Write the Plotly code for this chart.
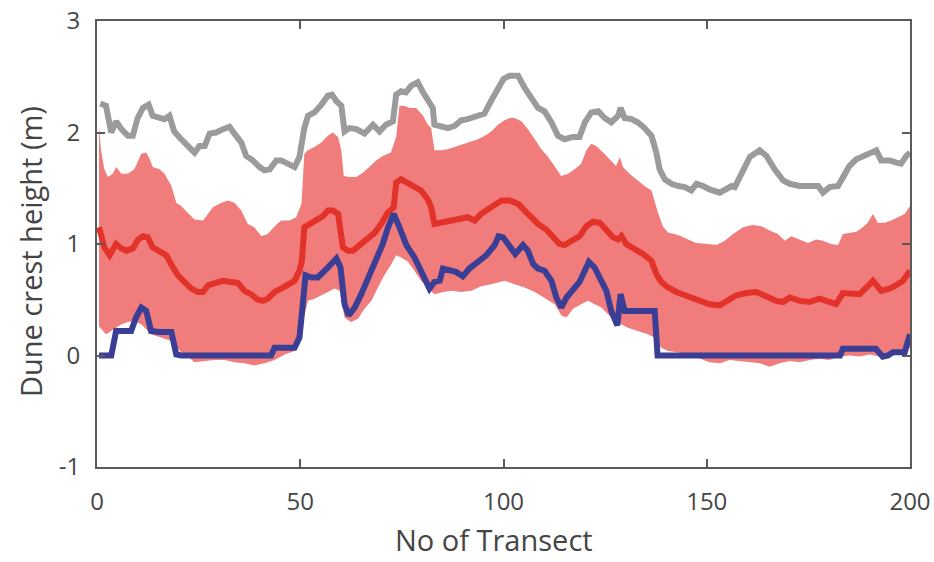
import plotly.graph_objects as go

# ---- data ----
gray_x = [0.8, 2.2, 3.5, 4.7, 6, 7.6, 8.8, 10, 11.3, 12.7, 13.7, 15.4, 16.6, 17.8, 19, 20.7, 22.3, 24, 25.2, 26.5,
          27.7, 29.3, 31, 32.6, 33.8, 35.5, 36.7, 38.3, 40, 41.2, 42.5, 44.1, 45.3, 47, 48.6, 49.8, 51, 51.9, 53.5,
          55.2, 56.8, 57.8, 58.9, 60.1, 60.9, 62.1, 63.8, 65.8, 67.9, 69.5, 71.1, 72.8, 73.6, 74.8, 76, 77.3, 78.9,
          80.2, 81.4, 82.6, 83, 84.7, 86.3, 88, 89.6, 91.2, 93.3, 95.3, 96.9, 98.6, 100, 101.5, 103.6, 105.2, 106.8,
          108.5, 110.1, 111.8, 113.4, 115, 117.1, 118.7, 120, 121.6, 123.3, 124.9, 126.5, 128.2, 128.8, 129.8, 131.5,
          133.1, 134.7, 136.4, 137.6, 138.4, 139.7, 141.3, 143, 144.6, 146.2, 147.5, 149.1, 150.7, 153.2, 154.8,
          156.1, 156.9, 158.5, 160.6, 163, 164.7, 166.7, 168.8, 170.4, 172.9, 175.3, 177.4, 178.6, 180.2, 182.3,
          183.5, 185.1, 186.8, 188.8, 191.7, 192.9, 195, 196.6, 197.8, 199.1, 200]
gray_y = [2.26, 2.24, 2.0, 2.1, 2.03, 1.97, 1.97, 2.13, 2.22, 2.25, 2.15, 2.13, 2.12, 2.15, 2.01, 1.94, 1.88, 1.82, 1.88,
          1.88, 1.99, 2.0, 2.03, 2.05, 1.99, 1.91, 1.79, 1.75, 1.69, 1.66, 1.67, 1.75, 1.75, 1.72, 1.69, 1.78, 2.04,
          2.15, 2.18, 2.25, 2.33, 2.34, 2.28, 2.24, 2.01, 2.04, 2.03, 1.99, 2.07, 2.01, 2.07, 2.1, 2.34, 2.37, 2.36,
          2.42, 2.45, 2.36, 2.3, 2.22, 2.07, 2.05, 2.04, 2.06, 2.11, 2.12, 2.15, 2.17, 2.28, 2.4, 2.48, 2.51, 2.51,
          2.4, 2.31, 2.22, 2.19, 2.09, 1.97, 1.94, 1.96, 1.96, 2.09, 2.18, 2.19, 2.13, 2.09, 2.15, 2.22, 2.13, 2.12,
          2.09, 2.04, 1.97, 1.82, 1.67, 1.58, 1.54, 1.52, 1.51, 1.48, 1.54, 1.52, 1.49, 1.46, 1.49, 1.52, 1.51, 1.64,
          1.78, 1.84, 1.79, 1.67, 1.57, 1.54, 1.52, 1.52, 1.52, 1.46, 1.51, 1.52, 1.61, 1.70, 1.76, 1.79, 1.84, 1.75,
          1.75, 1.73, 1.72, 1.79, 1.82]

red_x = [0.5, 1.8, 3.1, 4.7, 6, 7.2, 8.8, 10.1, 11.3, 12.5, 13.7, 15.4, 17, 18.7, 19.9, 21.5, 23.2, 24.8, 26.1, 27.3,
         28.9, 31, 33, 34.7, 36.3, 37.9, 39.6, 40.8, 42, 43.7, 45.3, 47, 48.6, 49.8, 50.4, 51, 52.3, 53.9, 55.6,
         56.8, 58, 59.3, 60.5, 61.7, 63, 64.6, 66.2, 68.3, 69.9, 71.5, 73, 73.6, 74.8, 76.5, 78.1, 79.7, 81.4, 82.2,
         83, 84.7, 86.3, 88, 89.6, 91.2, 92.9, 94.5, 96.1, 97.8, 99.5, 101.5, 103.6, 105.2, 106.8, 108.5, 110.5,
         112.2, 113.8, 115, 116.7, 118.7, 120.4, 122, 123.7, 125.3, 126.9, 128.2, 129, 130.2, 132.3, 134.3, 136.4,
         137.6, 138.8, 140.5, 142.5, 144.6, 146.6, 148.3, 150.7, 153.2, 154.8, 157.3, 159.8, 162.2, 164.7, 167.1,
         168.8, 170.4, 172.9, 175.3, 177.7, 179.7, 181.8, 183.5, 185.5, 187.6, 189.3, 190.9, 192.9, 195, 196.6,
         198.3, 200]
red_y = [1.15, 0.97, 0.9, 1.0, 0.96, 0.94, 0.96, 1.04, 1.07, 1.06, 0.97, 0.94, 0.9, 0.79, 0.72, 0.66, 0.6, 0.57, 0.57,
         0.63, 0.65, 0.67, 0.66, 0.65, 0.58, 0.55, 0.5, 0.49, 0.51, 0.57, 0.6, 0.63, 0.67, 0.76, 0.85, 1.15, 1.18,
         1.21, 1.25, 1.3, 1.3, 1.27, 0.97, 0.94, 0.94, 0.99, 1.04, 1.1, 1.18, 1.28, 1.33, 1.55, 1.58, 1.55, 1.52,
         1.48, 1.4, 1.33, 1.18, 1.19, 1.21, 1.21, 1.22, 1.24, 1.21, 1.27, 1.31, 1.35, 1.39, 1.39, 1.36, 1.3, 1.24,
         1.18, 1.13, 1.07, 1.0, 0.99, 1.03, 1.07, 1.16, 1.2, 1.19, 1.13, 1.06, 1.04, 1.07, 1.0, 0.96, 0.91, 0.85,
         0.73, 0.66, 0.61, 0.57, 0.54, 0.51, 0.5, 0.46, 0.45, 0.49, 0.54, 0.56, 0.57, 0.53, 0.49, 0.48, 0.52, 0.49,
         0.48, 0.51, 0.48, 0.46, 0.56, 0.56, 0.55, 0.61, 0.67, 0.58, 0.6, 0.63, 0.67, 0.76]

blue_x = [0.5, 3.5, 4.7, 8.4, 9.6, 10.9, 12.1, 13.3, 15.4, 18.3, 19.5, 20.7, 42.8, 43.7, 48.6, 49.8, 50.6, 51.3, 52.7,
          54.3, 56, 57.6, 58.9, 59.9, 60.9, 61.9, 63.4, 65, 66.7, 68.7, 70.3, 71.6, 73, 74.4, 76.1, 78.1, 79.7, 80.9,
          81.8, 83, 84.3, 85.1, 86.7, 88.3, 90, 91.6, 93.7, 95.8, 97.8, 98.8, 99.9, 101.5, 102.9, 104.8, 106, 107.3,
          108.5, 110.1, 111.8, 113, 114.2, 115.5, 117.1, 118.7, 120, 121, 122.4, 124.1, 125.3, 126.5, 128, 128.8,
          129.8, 137.2, 137.9, 182.8, 183.5, 191.6, 193.3, 194.6, 195.8, 198.7, 199.4, 200]
blue_y = [0, 0, 0.22, 0.22, 0.34, 0.43, 0.4, 0.22, 0.21, 0.21, 0.01, 0, 0, 0.07, 0.07, 0.16, 0.45, 0.72, 0.7, 0.7,
          0.76, 0.82, 0.87, 0.79, 0.46, 0.36, 0.43, 0.55, 0.7, 0.85, 1.0, 1.15, 1.27, 1.15, 0.99, 0.88, 0.76, 0.66,
          0.6, 0.66, 0.67, 0.78, 0.77, 0.75, 0.71, 0.78, 0.84, 0.9, 0.99, 1.07, 1.06, 0.99, 0.91, 0.99, 0.94, 0.82,
          0.78, 0.76, 0.67, 0.52, 0.43, 0.52, 0.6, 0.66, 0.76, 0.84, 0.79, 0.67, 0.58, 0.4, 0.27, 0.55, 0.4, 0.4, 0,
          0, 0.06, 0.06, -0.01, 0, 0.03, 0.03, 0.1, 0.19]

upper_x = [0.5, 1.0, 1.8, 2.7, 3.9, 4.7, 6, 7.6, 9.2, 10.9, 12.1, 13, 13.7, 15.4, 16.6, 18.3, 19.5, 20.7, 22.3, 24,
           26.1, 27.3, 28.5, 30.6, 32.2, 33.8, 35.5, 37.1, 38.7, 40.4, 42, 43.7, 45.3, 47.4, 49, 50.3, 51, 51.9,
           53.5, 55.2, 56.8, 58, 59.3, 60.1, 60.7, 62.1, 63.8, 65.4, 67, 68.7, 70.3, 72.3, 73.6, 74.4, 75.6, 76.9,
           78.5, 80.2, 81.4, 82.2, 83, 84.7, 86.3, 88, 89.6, 91.7, 93.7, 95.4, 97, 98.6, 100.3, 101.5, 102.7, 104.4,
           106, 107.7, 109.3, 111, 112.6, 114.2, 115.9, 117.5, 119.1, 120.4, 121.6, 122.8, 124.5, 126.1, 127.7,
           128.6, 129.4, 131, 132.7, 134.7, 136.4, 138, 139.2, 140.5, 142.1, 143.7, 145.4, 147.4, 150.3, 152.4,
           154.4, 156.5, 158.9, 161.4, 163.4, 165.5, 167.5, 169.2, 170.8, 172.9, 174.9, 176.9, 178.6, 180.6, 182.3,
           183.5, 185.1, 186.8, 188.4, 189.6, 190.9, 192.1, 193.8, 195.4, 197, 198.7, 200]
upper_y = [2.05, 1.84, 1.67, 1.6, 1.63, 1.69, 1.63, 1.63, 1.67, 1.81, 1.82, 1.76, 1.69, 1.67, 1.63, 1.52, 1.37, 1.34,
           1.28, 1.22, 1.21, 1.27, 1.33, 1.37, 1.39, 1.37, 1.3, 1.18, 1.15, 1.07, 1.09, 1.16, 1.21, 1.21, 1.24, 1.36,
           1.81, 1.84, 1.87, 1.91, 1.97, 2.0, 1.96, 1.84, 1.61, 1.6, 1.6, 1.64, 1.69, 1.75, 1.79, 1.82, 1.96, 2.24,
           2.24, 2.22, 2.22, 2.15, 2.07, 2.04, 1.84, 1.84, 1.85, 1.87, 1.89, 1.91, 1.94, 1.97, 2.01, 2.07, 2.11, 2.13,
           2.13, 2.1, 2.03, 1.94, 1.85, 1.78, 1.69, 1.61, 1.63, 1.67, 1.72, 1.84, 1.9, 1.88, 1.82, 1.76, 1.7, 1.78,
           1.69, 1.63, 1.58, 1.52, 1.48, 1.28, 1.16, 1.1, 1.09, 1.07, 1.04, 1.01, 1.0, 0.99, 1.03, 1.09, 1.15, 1.17,
           1.16, 1.12, 1.09, 1.03, 1.07, 1.04, 1.01, 1.04, 1.03, 1.0, 0.99, 1.09, 1.1, 1.11, 1.15, 1.19, 1.27, 1.19,
           1.19, 1.21, 1.24, 1.27, 1.34]

lower_x = [0.5, 1.0, 2.2, 3.5, 6, 7.6, 9.2, 10.9, 13.3, 15.8, 18.3, 20.7, 22.3, 24, 26.5, 28.9, 31.4, 33.8, 36.3,
           38.7, 41.2, 43.7, 46.2, 48.6, 49.8, 50.6, 51.9, 53.5, 55.2, 56.8, 58.4, 59.7, 60.9, 62.5, 64.2, 65.8,
           67.5, 69.1, 70.7, 72.4, 73.6, 74.8, 76.5, 78.1, 79.7, 81.4, 83, 85.1, 87.2, 89.6, 92.1, 94.5, 97, 100.3,
           102.7, 105.2, 107.7, 110.1, 112.6, 114.2, 115.5, 117.1, 119.1, 120.8, 122.4, 124.1, 125.7, 127.4, 129,
           130.6, 133.1, 135.5, 137.2, 138.8, 140.5, 142.9, 145.4, 147.8, 150.7, 153.2, 155.6, 158.1, 160.6, 163,
           165.5, 167.9, 170.4, 172.9, 175.3, 177.7, 180.2, 182.6, 185.1, 187.6, 190.1, 192.5, 195, 197.4, 200]
lower_y = [0.26, 0.24, 0.19, 0.22, 0.28, 0.3, 0.31, 0.28, 0.19, 0.16, 0.13, 0.03, -0.01, -0.06, -0.05, -0.04, -0.04,
           -0.06, -0.07, -0.09, -0.07, -0.04, 0.01, 0.04, 0.12, 0.3, 0.49, 0.51, 0.54, 0.57, 0.6, 0.58, 0.34, 0.3,
           0.33, 0.42, 0.49, 0.61, 0.72, 0.82, 0.9, 0.88, 0.84, 0.76, 0.67, 0.61, 0.55, 0.57, 0.58, 0.57, 0.58, 0.62,
           0.64, 0.67, 0.64, 0.61, 0.57, 0.52, 0.46, 0.36, 0.34, 0.42, 0.46, 0.49, 0.46, 0.43, 0.37, 0.31, 0.28,
           0.25, 0.22, 0.19, 0.16, 0.07, 0.04, 0.03, 0.0, -0.02, -0.06, -0.07, -0.04, -0.05, -0.06, -0.07, -0.1,
           -0.07, -0.05, -0.06, -0.04, -0.03, -0.04, -0.01, 0.0, -0.01, 0.01, -0.01, 0.0, 0.03, 0.07]

x_ticks = [0, 50, 100, 150, 200]
y_ticks = [-1, 0, 1, 2, 3]
x_title = "No of Transect"
y_title = "Dune crest height (m)"

FONT = "Open Sans"
AXIS_COLOR = "#5a5a5a"
TEXT_COLOR = "#454545"

fig = go.Figure()

band_x = upper_x + lower_x[::-1]
band_y = upper_y + lower_y[::-1]
fig.add_trace(go.Scatter(x=band_x, y=band_y, fill="toself", fillcolor="rgb(240,124,124)",
                         line=dict(width=0), mode="lines", hoverinfo="skip", showlegend=False))
fig.add_trace(go.Scatter(x=gray_x, y=gray_y, mode="lines",
                         line=dict(color="rgb(155,155,155)", width=6), showlegend=False))
fig.add_trace(go.Scatter(x=red_x, y=red_y, mode="lines",
                         line=dict(color="rgb(226,50,42)", width=6), showlegend=False))
fig.add_trace(go.Scatter(x=blue_x, y=blue_y, mode="lines",
                         line=dict(color="rgb(58,62,148)", width=6), showlegend=False))

axis_common = dict(showgrid=False, zeroline=False, showline=True, linecolor=AXIS_COLOR, linewidth=2,
                   mirror="ticks", ticks="inside", ticklen=8, tickwidth=1.5, tickcolor=AXIS_COLOR,
                   automargin=False, tickfont=dict(family=FONT, size=24, color=TEXT_COLOR))

fig.update_xaxes(range=[0, 200], tickvals=x_ticks, ticktext=[str(v) for v in x_ticks],
                 ticklabelstandoff=12, **axis_common)
fig.update_yaxes(range=[-1, 3], tickvals=y_ticks, ticktext=[str(v) for v in y_ticks],
                 ticklabelstandoff=10, **axis_common)

title_font = dict(family=FONT, size=29, color=TEXT_COLOR)
fig.add_annotation(text=x_title, xref="paper", yref="paper", x=0.488, y=-0.162,
                   xanchor="center", yanchor="middle", showarrow=False, font=title_font)
fig.add_annotation(text=y_title, xref="paper", yref="paper", x=-0.0824, y=0.482, textangle=-90,
                   xanchor="center", yanchor="middle", showarrow=False, font=title_font)

fig.update_layout(width=934, height=562, margin=dict(l=97, r=24, t=21, b=95),
                  plot_bgcolor="white", paper_bgcolor="white", font=dict(family=FONT))

fig.write_html("out.html")
